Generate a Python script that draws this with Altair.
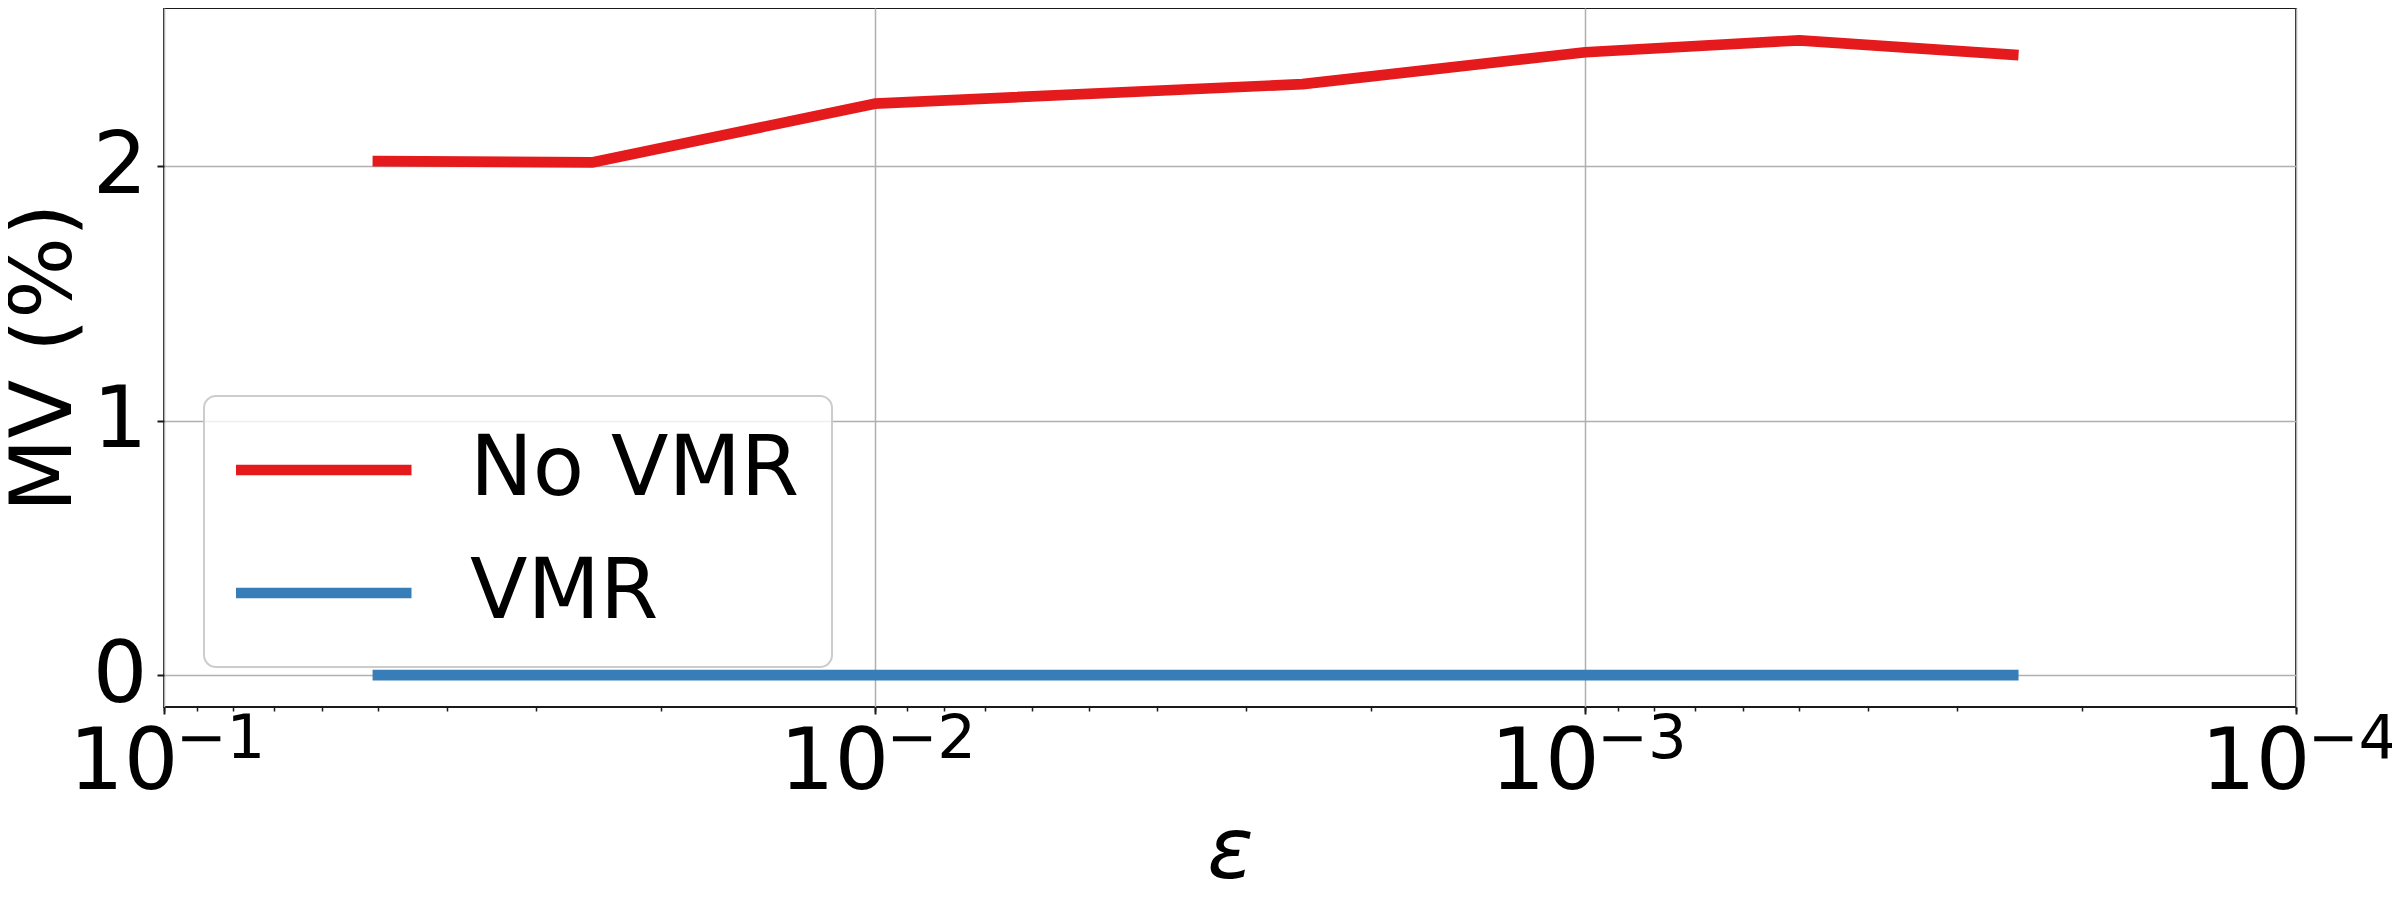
import altair as alt
import pandas as pd

FONT = "DejaVu Sans"

# ---- data ----
eps = [0.05, 0.025, 0.01, 0.0025, 0.001, 0.0005, 0.00025]
no_vmr = [2.020, 2.015, 2.246, 2.323, 2.448, 2.495, 2.438]
vmr = [0.0, 0.0, 0.0, 0.0, 0.0, 0.0, 0.0]
series_names = ["No VMR", "VMR"]
series_colors = ["#e41a1c", "#377eb8"]

major_ticks = [0.1, 0.01, 0.001, 0.0001]
minor_ticks = [0.09, 0.08, 0.07, 0.06, 0.05, 0.04, 0.03, 0.02,
               0.009, 0.008, 0.007, 0.006, 0.005, 0.004, 0.003, 0.002,
               0.0009, 0.0008, 0.0007, 0.0006, 0.0005, 0.0004, 0.0003, 0.0002]
y_ticks = [0, 1, 2]

rows = []
for e, v in zip(eps, no_vmr):
    rows.append({"eps": e, "series": series_names[0], "value": v})
for e, v in zip(eps, vmr):
    rows.append({"eps": e, "series": series_names[1], "value": v})
df = pd.DataFrame(rows)

x_scale = alt.Scale(type="log", domain=[0.0001, 0.1], reverse=True, nice=False)
y_scale = alt.Scale(domain=[-0.125, 2.622], nice=False, zero=False)

y_axis = alt.Axis(
    values=y_ticks, format="d",
    labelFontSize=86, labelFont=FONT, labelColor="black", labelPadding=10,
    labelBaseline="middle",
    tickSize=7, tickWidth=2, tickColor="#1a1a1a",
    domain=False, grid=True, gridColor="#b0b0b0", gridWidth=1.5,
    title="MV (%)", titleFontSize=86, titleFont=FONT, titleFontWeight="normal",
    titleColor="black", titleAngle=270, titleBaseline="alphabetic",
    titleAlign="center", titleX=-94, titleY=349.5,
)

xa = alt.Axis(
    values=major_ticks, labelExpr="'10'",
    labelFontSize=86, labelFont=FONT, labelColor="black",
    labelAlign="right", labelOffset=14, labelBaseline="alphabetic", labelPadding=74,
    labelFlush=False, labelOverlap=False, labelBound=False,
    tickSize=7, tickWidth=2, tickColor="#1a1a1a",
    domain=False, grid=True, gridColor="#b0b0b0", gridWidth=1.5,
    orient="bottom", offset=0,
    title="ε", titleFontSize=86, titleFont=FONT, titleFontStyle="italic",
    titleFontWeight="normal", titleColor="black", titleBaseline="alphabetic",
    titleAlign="center", titleX=1066, titleY=170,
)

exp_expr = "round(log(datum.value)/LN10)"
xb = alt.Axis(
    values=major_ticks + minor_ticks,
    labelExpr=f"abs(log(datum.value)/LN10 - {exp_expr}) < 1e-6 ? '\u2212' + abs({exp_expr}) : ''",
    labelFontSize=61, labelFont=FONT, labelColor="black",
    labelAlign="left", labelOffset=11, labelBaseline="alphabetic", labelPadding=46,
    labelFlush=False, labelOverlap=False, labelBound=False,
    tickSize=4, tickWidth=1.5, tickColor="#1a1a1a",
    domain=False, grid=False, orient="bottom", offset=0, title=None,
)

legend = alt.Legend(
    orient="none", legendX=40, legendY=388, direction="vertical",
    padding=32, fillColor="rgba(255,255,255,0.8)", strokeColor="#cccccc",
    cornerRadius=12, title=None,
    labelFontSize=84, labelFont=FONT, labelColor="black", labelLimit=1000,
    symbolType="stroke", symbolSize=30976, symbolStrokeWidth=10.7,
    symbolOffset=-6, labelOffset=53, rowPadding=39, clipHeight=84,
)

color_enc = alt.Color(
    "series:N",
    scale=alt.Scale(domain=series_names, range=series_colors),
    legend=legend,
)

red = alt.Chart(df).transform_filter(
    alt.datum.series == series_names[0]
).mark_line(strokeWidth=10.7, strokeCap="square", strokeJoin="round").encode(
    x=alt.X("eps:Q", scale=x_scale, axis=xa),
    y=alt.Y("value:Q", scale=y_scale, axis=y_axis),
    color=color_enc,
)

blue = alt.Chart(df).transform_filter(
    alt.datum.series == series_names[1]
).mark_line(strokeWidth=10.7, strokeCap="square", strokeJoin="round").encode(
    x=alt.X("eps:Q", scale=x_scale, axis=xb),
    y=alt.Y("value:Q", scale=y_scale, axis=y_axis),
    color=color_enc,
)

chart = alt.layer(red, blue).resolve_axis(x="independent").properties(
    width=2132, height=699,
    autosize=alt.AutoSizeParams(type="none"),
    padding={"left": 156, "top": 0, "right": 96, "bottom": 185},
).configure_view(
    stroke="#1a1a1a", strokeWidth=2
).configure_legend(
    strokeWidth=2
)

chart.save("out.html", embed_options={"renderer": "svg", "actions": False})
